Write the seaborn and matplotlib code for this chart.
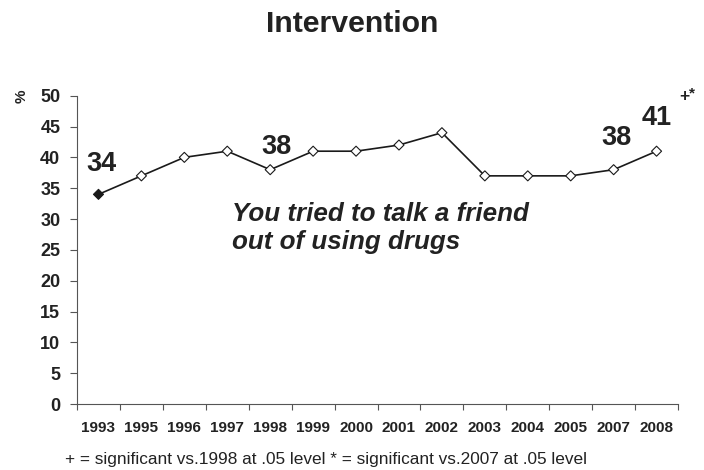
import numpy as np
import matplotlib
matplotlib.use("Agg")
import matplotlib.pyplot as plt
import seaborn as sns

years = ["1993", "1995", "1996", "1997", "1998", "1999", "2000",
         "2001", "2002", "2003", "2004", "2005", "2007", "2008"]
pct = [34, 37, 40, 41, 38, 41, 41, 42, 44, 37, 37, 37, 38, 41]
labeled_years = ["1993", "1998", "2007", "2008"]
y_ticks = [0, 5, 10, 15, 20, 25, 30, 35, 40, 45, 50]

# label offsets (points) relative to the data point
label_offsets = {"1993": (1.8, 22), "1998": (4.7, 16.6),
                 "2007": (1.8, 23), "2008": (0, 24)}

sns.set_style("white")
plt.rcParams['font.family'] = ['Liberation Sans', 'DejaVu Sans']

txt = "#222222"

fig = plt.figure(figsize=(7.04, 4.70), dpi=100)
ax = fig.add_axes([0.1094, 0.1404, 0.8537, 0.656])

pos = np.arange(len(years))
sns.lineplot(x=pos, y=pct, ax=ax, color="#1a1a1a", linewidth=1.2)
fills = ["#1a1a1a"] + ["white"] * (len(years) - 1)
ax.scatter(pos, pct, marker="D", s=26, facecolors=fills,
           edgecolors="#1a1a1a", linewidths=0.8, zorder=3)

ax.set_xlim(-0.5, len(years) - 0.5)
ax.set_ylim(0, 50)

# category axis: ticks between categories, labels centred
ax.set_xticks(np.arange(len(years) + 1) - 0.5)
ax.set_xticklabels([])
ax.set_xticks(pos, minor=True)
ax.set_xticklabels(years, minor=True, fontsize=11, fontweight="bold", color=txt)
ax.tick_params(axis="x", which="major", direction="out", length=4,
               width=0.8, color="#555555", bottom=True)
ax.tick_params(axis="x", which="minor", length=0, pad=12, bottom=True)

ax.set_yticks(y_ticks)
ax.set_yticklabels([str(t) for t in y_ticks], fontsize=13,
                   fontweight="bold", color=txt)
ax.tick_params(axis="y", direction="out", length=5, width=0.8,
               color="#555555", left=True, pad=7)

for side in ["top", "right"]:
    ax.spines[side].set_visible(False)
for side in ["left", "bottom"]:
    ax.spines[side].set_color("#555555")
    ax.spines[side].set_linewidth(0.8)

ax.set_xlabel("")
ax.set_ylabel("")

# value labels
for yr in labeled_years:
    i = years.index(yr)
    ax.annotate(str(pct[i]), (pos[i], pct[i]), xytext=label_offsets[yr],
                textcoords="offset points", ha="center", va="center",
                fontsize=19.5, fontweight="bold", color=txt)
last = len(years) - 1
ax.annotate("+", (pos[last], pct[last]), xytext=(19.8, 39.2),
            textcoords="offset points", ha="center", va="center",
            fontsize=12.5, fontweight="bold", color=txt)
ax.annotate("*", (pos[last], pct[last]), xytext=(25.2, 41.8),
            textcoords="offset points", ha="center", va="center",
            fontsize=11, fontweight="bold", color=txt)

ax.text(3.1, 28.6, "You tried to talk a friend\nout of using drugs",
        fontsize=18.7, fontweight="bold", fontstyle="italic", color=txt,
        ha="left", va="center", linespacing=1.22)

fig.text(0.5, 0.949, "Intervention", ha="center", va="center",
         fontsize=21.8, fontweight="bold", color=txt)
fig.text(0.031, 0.796, "%", rotation=90, ha="center", va="center",
         fontsize=11, fontweight="bold", color=txt)
fig.text(0.092, 0.023, "+ = significant vs.1998 at .05 level * = significant vs.2007 at .05 level",
         ha="left", va="center", fontsize=12.4, color=txt)

fig.savefig("out.png", dpi=100)
